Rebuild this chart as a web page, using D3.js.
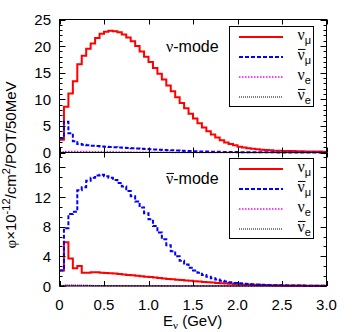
<!DOCTYPE html>
<html>
<head>
<meta charset="utf-8">
<script src="https://cdn.jsdelivr.net/npm/d3@7"></script>
<style>
  body { margin: 0; background: #fff; }
  svg text { font-family: "Liberation Sans", Arial, sans-serif; fill: #000; }
  .greek { font-family: "Liberation Serif", "DejaVu Serif", serif; }
</style>
</head>
<body>
<svg id="chart" width="357" height="332"></svg>
<script>
// flux per 50 MeV bin, bins from 0 to 3 GeV
var binWidth = 0.05;
var xTicks = [0, 0.5, 1.0, 1.5, 2.0, 2.5, 3.0];
var topTicks = [0, 5, 10, 15, 20, 25];
var botTicks = [0, 4, 8, 12, 16];

// nu-mode
var nuNumu = [2.4, 8.6, 11.1, 13.4, 16.6, 18.2, 19.5, 20.5, 21.5, 22.3,
  22.7, 22.9, 22.8, 22.6, 22.2, 21.6, 20.9, 20.0, 19.0, 18.0,
  17.0, 15.9, 14.8, 13.7, 12.6, 11.5, 10.4, 9.3, 8.3, 7.3,
  6.4, 5.5, 4.7, 4.0, 3.4, 2.8, 2.3, 1.9, 1.6, 1.35,
  1.1, 0.95, 0.8, 0.7, 0.6, 0.5, 0.45, 0.4, 0.35, 0.32,
  0.3, 0.28, 0.26, 0.24, 0.22, 0.2, 0.19, 0.18, 0.17, 0.16];
var nuNumubar = [2.7, 5.8, 3.6, 2.1, 1.6, 1.45, 1.35, 1.25, 1.2, 1.15,
  1.1, 1.05, 1.0, 0.95, 0.9, 0.85, 0.8, 0.75, 0.7, 0.65,
  0.6, 0.56, 0.52, 0.48, 0.44, 0.4, 0.36, 0.33, 0.3, 0.27,
  0.24, 0.21, 0.19, 0.17, 0.15, 0.13, 0.11, 0.1, 0.09, 0.08,
  0.07, 0.06, 0.05, 0.05, 0.04, 0.04, 0.03, 0.03, 0.03, 0.02,
  0.02, 0.02, 0.02, 0.02, 0.01, 0.01, 0.01, 0.01, 0.01, 0.01];
var nuNue = [0.1, 0.2, 0.2, 0.2, 0.19, 0.18, 0.17, 0.16, 0.15, 0.14,
  0.13, 0.12, 0.11, 0.1, 0.09, 0.08, 0.07, 0.06, 0.05, 0.05,
  0.04, 0.04, 0.03, 0.03, 0.03, 0.02, 0.02, 0.02, 0.02, 0.02,
  0.01, 0.01, 0.01, 0.01, 0.01, 0.01, 0.01, 0.01, 0.01, 0.01,
  0.01, 0.01, 0.01, 0.01, 0.01, 0.01, 0.01, 0.01, 0.01, 0.01,
  0.01, 0.01, 0.01, 0.01, 0.01, 0.01, 0.01, 0.01, 0.01, 0.01];
var nuNuebar = [0.03, 0.04, 0.03, 0.03, 0.02, 0.02, 0.02, 0.02, 0.02, 0.02,
  0.02, 0.01, 0.01, 0.01, 0.01, 0.01, 0.01, 0.01, 0.01, 0.01,
  0.01, 0.01, 0.01, 0.01, 0.01, 0.01, 0.01, 0.01, 0.01, 0.01,
  0.01, 0.01, 0.01, 0.01, 0.01, 0.01, 0.01, 0.01, 0.01, 0.01,
  0.01, 0.01, 0.01, 0.01, 0.01, 0.01, 0.01, 0.01, 0.01, 0.01,
  0.01, 0.01, 0.01, 0.01, 0.01, 0.01, 0.01, 0.01, 0.01, 0.01];

// nubar-mode
var anuNumu = [2.1, 5.9, 3.7, 2.4, 2.7, 1.8, 1.8, 1.85, 1.85, 1.8,
  1.75, 1.72, 1.68, 1.62, 1.56, 1.5, 1.44, 1.38, 1.32, 1.26,
  1.2, 1.14, 1.08, 1.02, 0.96, 0.9, 0.85, 0.8, 0.75, 0.7,
  0.65, 0.6, 0.55, 0.5, 0.46, 0.42, 0.38, 0.34, 0.3, 0.27,
  0.24, 0.21, 0.19, 0.17, 0.15, 0.13, 0.12, 0.11, 0.1, 0.09,
  0.08, 0.07, 0.07, 0.06, 0.06, 0.05, 0.05, 0.04, 0.04, 0.04];
var anuNumubar = [2.1, 7.8, 9.7, 10.0, 12.9, 13.3, 14.2, 14.6, 14.9, 15.0,
  14.8, 14.6, 14.3, 13.9, 13.4, 12.8, 12.1, 11.4, 10.6, 9.8,
  9.0, 8.1, 7.2, 6.3, 5.5, 4.7, 4.0, 3.4, 2.9, 2.45,
  2.1, 1.8, 1.5, 1.25, 1.05, 0.88, 0.72, 0.6, 0.5, 0.42,
  0.36, 0.3, 0.26, 0.22, 0.19, 0.16, 0.14, 0.12, 0.11, 0.1,
  0.09, 0.08, 0.07, 0.06, 0.06, 0.05, 0.05, 0.04, 0.04, 0.04];
var anuNue = [0.05, 0.08, 0.08, 0.07, 0.07, 0.06, 0.06, 0.05, 0.05, 0.05,
  0.04, 0.04, 0.04, 0.03, 0.03, 0.03, 0.03, 0.02, 0.02, 0.02,
  0.02, 0.02, 0.02, 0.01, 0.01, 0.01, 0.01, 0.01, 0.01, 0.01,
  0.01, 0.01, 0.01, 0.01, 0.01, 0.01, 0.01, 0.01, 0.01, 0.01,
  0.01, 0.01, 0.01, 0.01, 0.01, 0.01, 0.01, 0.01, 0.01, 0.01,
  0.01, 0.01, 0.01, 0.01, 0.01, 0.01, 0.01, 0.01, 0.01, 0.01];
var anuNuebar = [0.08, 0.12, 0.12, 0.11, 0.1, 0.09, 0.08, 0.07, 0.06, 0.06,
  0.05, 0.05, 0.04, 0.04, 0.04, 0.03, 0.03, 0.03, 0.02, 0.02,
  0.02, 0.02, 0.02, 0.01, 0.01, 0.01, 0.01, 0.01, 0.01, 0.01,
  0.01, 0.01, 0.01, 0.01, 0.01, 0.01, 0.01, 0.01, 0.01, 0.01,
  0.01, 0.01, 0.01, 0.01, 0.01, 0.01, 0.01, 0.01, 0.01, 0.01,
  0.01, 0.01, 0.01, 0.01, 0.01, 0.01, 0.01, 0.01, 0.01, 0.01];

var styles = [
  {sub: "μ", bar: false, color: "#ff0000", width: 2, dash: null},
  {sub: "μ", bar: true, color: "#0000ff", width: 2, dash: "4,2"},
  {sub: "e", bar: false, color: "#ff00ff", width: 1.5, dash: "1.5,1.5"},
  {sub: "e", bar: true, color: "#000000", width: 1, dash: "1,1"}
];

var svg = d3.select("#chart");
var plotLeft = 59.5, plotRight = 326.5, plotTop = 19.5, plotMid = 152.5, plotBottom = 286;

var x = d3.scaleLinear().domain([0, 3]).range([plotLeft, plotRight]);
var yTop = d3.scaleLinear().domain([0, 25]).range([plotMid, plotTop]);
var yBot = d3.scaleLinear().domain([0, 18]).range([plotBottom, plotMid]);

function stepLine(y) {
  return d3.line()
    .x(function(d) { return x(d.e); })
    .y(function(d) { return y(d.v); })
    .curve(d3.curveStepAfter);
}
function toPoints(vals) {
  var pts = vals.map(function(v, i) { return {e: i * binWidth, v: v}; });
  pts.push({e: vals.length * binWidth, v: vals[vals.length - 1]});
  return pts;
}

// nu symbol, optionally with a bar and a subscript
function nuText(g, tx, ty, size, sub, bar, subSize) {
  var t = g.append("text").attr("x", tx).attr("y", ty).attr("font-size", size);
  t.append("tspan").attr("class", "greek").text("ν");
  if (sub) t.append("tspan").attr("font-size", subSize).attr("dy", subSize * 0.4).text(sub);
  if (bar) {
    g.append("line")
      .attr("x1", tx + 0.5).attr("x2", tx + size * 0.5)
      .attr("y1", ty - size * 0.66).attr("y2", ty - size * 0.66)
      .attr("stroke", "#000").attr("stroke-width", 1);
  }
  return t;
}

function drawPanel(y, series, minorStep, ticks, barLabel, legendTop) {
  var g = svg.append("g");
  var y0 = y.range()[0], y1 = y.range()[1];
  // curves
  series.forEach(function(vals, i) {
    var s = styles[i];
    g.append("path")
      .datum(toPoints(vals))
      .attr("d", stepLine(y))
      .attr("fill", "none")
      .attr("stroke", s.color)
      .attr("stroke-width", s.width)
      .attr("stroke-dasharray", s.dash);
  });
  // y ticks, both sides
  var dom = y.domain();
  var minors = d3.range(0, dom[1] + 1e-6, minorStep);
  minors.forEach(function(v) {
    var yy = Math.round(y(v)) + 0.5;
    var major = ticks.indexOf(Math.round(v * 1000) / 1000) >= 0;
    var len = major ? 6 : 3;
    g.append("line").attr("x1", plotLeft).attr("x2", plotLeft + len).attr("y1", yy).attr("y2", yy).attr("stroke", "#000");
    g.append("line").attr("x1", plotRight).attr("x2", plotRight - len).attr("y1", yy).attr("y2", yy).attr("stroke", "#000");
  });
  ticks.forEach(function(v) {
    g.append("text")
      .attr("x", 51).attr("y", y(v) + 5.5)
      .attr("text-anchor", "end")
      .attr("font-size", 15)
      .text(v);
  });
  // x ticks top and bottom of panel
  xTicks.forEach(function(v) {
    var xx = Math.round(x(v)) + 0.5;
    g.append("line").attr("x1", xx).attr("x2", xx).attr("y1", y0).attr("y2", y0 - 5).attr("stroke", "#000");
    g.append("line").attr("x1", xx).attr("x2", xx).attr("y1", y1).attr("y2", y1 + 5).attr("stroke", "#000");
  });
  // mode label
  var t = nuText(g, 166, legendTop + 26, 16, null, barLabel, 0);
  t.append("tspan").text("-mode");
  // legend
  var lg = g.append("g");
  lg.append("rect")
    .attr("x", 229.5).attr("y", legendTop + 0.5)
    .attr("width", 84).attr("height", 80)
    .attr("fill", "#fff").attr("stroke", "#000");
  styles.forEach(function(s, i) {
    var ly = legendTop + 11 + i * 20;
    lg.append("line")
      .attr("x1", 239).attr("x2", 283).attr("y1", ly).attr("y2", ly)
      .attr("stroke", s.color).attr("stroke-width", s.width)
      .attr("stroke-dasharray", s.dash);
    nuText(lg, 297.5, ly + 3, 16, s.sub, s.bar, 11);
  });
}

drawPanel(yTop, [nuNumu, nuNumubar, nuNue, nuNuebar], 1, topTicks, false, 26);
drawPanel(yBot, [anuNumu, anuNumubar, anuNue, anuNuebar], 4 / 3, botTicks, true, 158);

// frame
svg.append("rect")
  .attr("x", plotLeft).attr("y", plotTop)
  .attr("width", plotRight - plotLeft).attr("height", plotBottom - plotTop)
  .attr("fill", "none").attr("stroke", "#000");
svg.append("line")
  .attr("x1", plotLeft).attr("x2", plotRight).attr("y1", plotMid).attr("y2", plotMid)
  .attr("stroke", "#000");

// x tick labels
xTicks.forEach(function(v) {
  svg.append("text")
    .attr("x", x(v)).attr("y", 309.5)
    .attr("text-anchor", "middle")
    .attr("font-size", 15)
    .text(v === 0 ? "0" : v.toFixed(1));
});

// x label
var xl = svg.append("text").attr("x", 163).attr("y", 326).attr("font-size", 15);
xl.append("tspan").text("E");
xl.append("tspan").attr("class", "greek").attr("font-size", 11).attr("dy", 3).text("ν");
xl.append("tspan").attr("dy", -3).text(" (GeV)");

// y label
var yl = svg.append("text")
  .attr("transform", "translate(16,165) rotate(-90)")
  .attr("text-anchor", "middle")
  .attr("font-size", 15);
yl.append("tspan").attr("class", "greek").text("φ");
yl.append("tspan").text("×10");
yl.append("tspan").attr("font-size", 11).attr("dy", -6).text("-12");
yl.append("tspan").attr("dy", 6).text("/cm");
yl.append("tspan").attr("font-size", 11).attr("dy", -6).text("2");
yl.append("tspan").attr("dy", 6).text("/POT/50MeV");
</script>
</body>
</html>
